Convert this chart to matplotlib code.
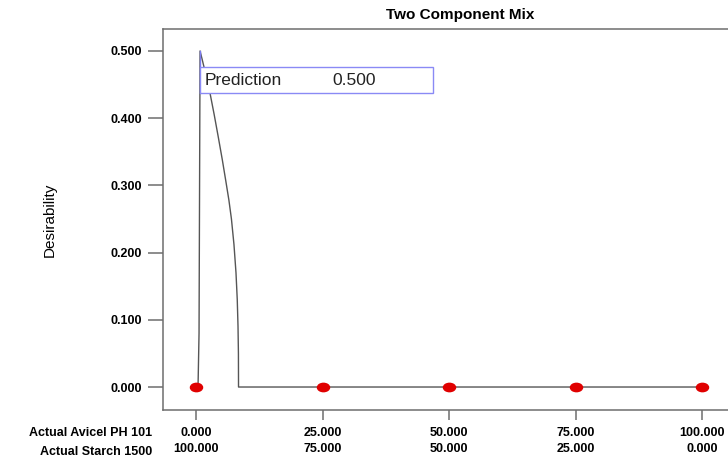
import matplotlib
matplotlib.use("Agg")
import matplotlib.pyplot as plt
from matplotlib.path import Path
from matplotlib.markers import MarkerStyle
from matplotlib.transforms import Affine2D
from matplotlib.patches import Rectangle
import numpy as np

plt.rcParams['font.family'] = ['Liberation Sans', 'DejaVu Sans']

# desirability trace along the mixture axis (Actual Avicel PH 101, %)
avicel = [0.4, 0.6, 0.8, 1.2, 2.0, 2.8, 3.6, 4.4, 5.2, 5.9, 6.5, 7.0, 7.5,
          7.9, 8.15, 8.3, 8.38, 8.4, 100.0]
desirability = [0.0, 0.08, 0.500, 0.488, 0.463, 0.436, 0.405, 0.372, 0.338,
                0.306, 0.278, 0.250, 0.212, 0.170, 0.130, 0.090, 0.050, 0.0,
                0.0]

# design points
design_avicel = [0, 25, 50, 75, 100]
design_desir = [0, 0, 0, 0, 0]

yticks = [0.0, 0.1, 0.2, 0.3, 0.4, 0.5]
xticks = [0, 25, 50, 75, 100]

pred_value = max(desirability)
pred_x = avicel[desirability.index(pred_value)]

fig = plt.figure(figsize=(7.28, 4.61), dpi=100)
ax = fig.add_axes([163 / 728, 51 / 461, 565 / 728, 381 / 461])

spine_col = '#6e6e6e'
ax.plot(avicel, desirability, color='#555555', lw=1.0, zorder=2)

# elliptic red design-point markers
ell = MarkerStyle(Path.unit_circle(), transform=Affine2D().scale(1.45, 1.0))
ax.plot(design_avicel, design_desir, linestyle='none', marker=ell,
        markersize=6, color='#e00000', zorder=3)

# prediction flag
box_top, box_bot, box_right = 0.476, 0.4375, 46.8
ax.plot([pred_x, pred_x], [pred_value, box_bot], color='#7b7bf0', lw=1.0,
        zorder=4)
ax.add_patch(Rectangle((pred_x, box_bot), box_right - pred_x,
                       box_top - box_bot, facecolor='white',
                       edgecolor='#8a8af5', lw=1.0, zorder=4))
ax.text(pred_x + 1.0, (box_top + box_bot) / 2, 'Prediction',
        fontsize=12.5, va='center', ha='left', color='#222222', zorder=5)
ax.text(27.0, (box_top + box_bot) / 2, '%.3f' % pred_value,
        fontsize=12.5, va='center', ha='left', color='#222222', zorder=5)

ax.set_xlim(-6.52, 105.1)
ax.set_ylim(-0.0342, 0.5327)

ax.set_yticks(yticks)
ax.set_yticklabels(['%.3f' % v for v in yticks], fontsize=9,
                   fontweight='bold')
ax.set_xticks(xticks)
ax.set_xticklabels(['%.3f\n%.3f' % (v, 100 - v) for v in xticks],
                   fontsize=9, fontweight='bold', linespacing=1.5)

ax.tick_params(axis='y', length=11, width=1.1, color=spine_col, pad=4)
ax.tick_params(axis='x', length=7, width=1.1, color=spine_col, pad=5)

ax.spines['right'].set_visible(False)
for s in ['left', 'top', 'bottom']:
    ax.spines[s].set_color(spine_col)
    ax.spines[s].set_linewidth(1.1)

ax.set_ylabel('Desirability', fontsize=11, labelpad=39)

fig.text(152 / 728, 1 - 433 / 461, 'Actual Avicel PH 101', fontsize=9,
         fontweight='bold', ha='right', va='center')
fig.text(152 / 728, 1 - 452 / 461, 'Actual Starch 1500', fontsize=9,
         fontweight='bold', ha='right', va='center')

fig.text(460 / 728, 1 - 15 / 461, 'Two Component Mix', fontsize=11,
         fontweight='bold', ha='center', va='center')

fig.savefig('out.png', dpi=100)
